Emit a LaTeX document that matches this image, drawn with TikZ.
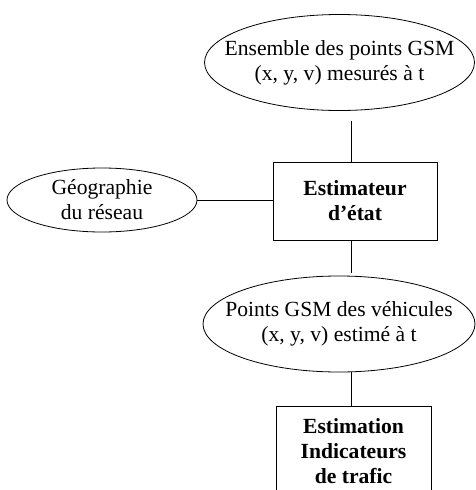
\documentclass[tikz,border=0pt]{standalone}
\usepackage{fontspec}
\setmainfont{Liberation Serif}
\usetikzlibrary{shapes.geometric}
\newcommand\zwline[1]{\makebox[0pt]{#1}}
\begin{document}
\begin{tikzpicture}[x=1pt,y=-1pt,
  every node/.style={font=\fontsize{21.6}{25}\selectfont, align=center},
  oval/.style={draw, ellipse, inner sep=0pt, line width=0.8pt},
  boxnode/.style={draw, rectangle, line width=0.8pt, font=\fontsize{21.6}{25}\selectfont\bfseries},
  link/.style={line width=0.8pt}]
\clip (0,0) rectangle (476,490);
\node[oval, minimum width=270, minimum height=96] (e1) at (339.5,62.5)
  {\zwline{Ensemble des points GSM}\\\zwline{(x, y, v) mesurés à t}};
\node[boxnode, minimum width=164, minimum height=78] (b1) at (355,201)
  {Estimateur\\d’état};
\node[oval, minimum width=190, minimum height=64] (g) at (102,200)
  {\zwline{Géographie}\\\zwline{du réseau}};
\node[oval, minimum width=272, minimum height=96] (e2) at (339,324)
  {\zwline{Points GSM des véhicules}\\\zwline{(x, y, v) estimé à t}};
\node[boxnode, anchor=north, inner xsep=0pt, inner ysep=12.5pt, minimum width=155] (b2) at (353.5,406)
  {Estimation\\Indicateurs\\de trafic};
\coordinate (cx) at (351,0);
\draw[link] (e1.south -| cx) ++(0,10) -- (b1.north -| cx);
\draw[link, shorten >=3pt] (b1.south -| cx) -- (e2.north -| cx);
\draw[link] (e2.south -| cx) -- (b2.north -| cx);
\draw[link] (g.east) -- (g.east -| b1.west);
\end{tikzpicture}
\end{document}
